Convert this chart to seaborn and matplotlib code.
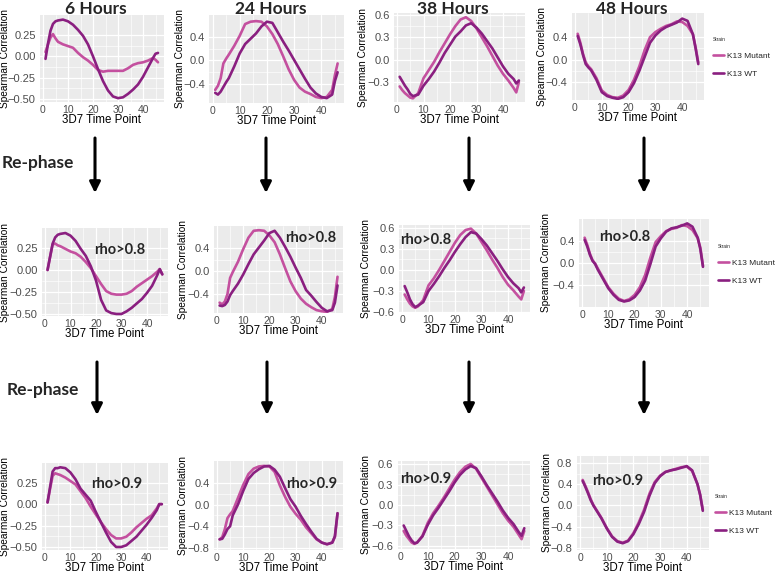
import numpy as np
import pandas as pd
import matplotlib
matplotlib.use("Agg")
import matplotlib.pyplot as plt
import seaborn as sns
from matplotlib.patches import FancyArrowPatch

# 3D7 time points
time_points = [1, 2, 3, 4, 5, 6, 8, 10, 12, 14, 16, 18, 20, 22, 24, 26, 28, 30, 32, 34, 36, 38, 40, 42, 44, 45, 46]

# row 1: original
wt_6h = [-0.03, 0.15, 0.30, 0.38, 0.41, 0.42, 0.43, 0.41, 0.37, 0.31, 0.24, 0.14, 0.00, -0.15, -0.29, -0.40, -0.47, -0.49, -0.48, -0.44, -0.39, -0.33, -0.24, -0.13, -0.02, 0.03, 0.04]
mut_6h = [0.05, 0.14, 0.22, 0.26, 0.21, 0.17, 0.14, 0.12, 0.10, 0.04, -0.01, -0.05, -0.10, -0.16, -0.18, -0.17, -0.17, -0.17, -0.17, -0.14, -0.10, -0.08, -0.07, -0.05, -0.02, -0.04, -0.07]
wt_24h = [-0.55, -0.58, -0.53, -0.45, -0.37, -0.30, -0.10, 0.12, 0.28, 0.37, 0.46, 0.58, 0.66, 0.64, 0.48, 0.32, 0.17, 0.01, -0.15, -0.31, -0.46, -0.56, -0.62, -0.64, -0.58, -0.35, -0.20]
mut_24h = [-0.50, -0.43, -0.30, -0.05, 0.03, 0.10, 0.25, 0.42, 0.62, 0.66, 0.67, 0.66, 0.58, 0.45, 0.28, 0.07, -0.15, -0.33, -0.46, -0.53, -0.57, -0.62, -0.64, -0.62, -0.50, -0.25, -0.05]
wt_38h = [-0.23, -0.29, -0.35, -0.40, -0.46, -0.49, -0.47, -0.35, -0.26, -0.16, -0.04, 0.09, 0.20, 0.31, 0.38, 0.46, 0.49, 0.43, 0.35, 0.25, 0.15, 0.03, -0.09, -0.19, -0.26, -0.32, -0.28]
mut_38h = [-0.36, -0.41, -0.45, -0.48, -0.51, -0.52, -0.45, -0.25, -0.14, -0.03, 0.10, 0.22, 0.34, 0.45, 0.54, 0.57, 0.52, 0.42, 0.30, 0.18, 0.05, -0.08, -0.19, -0.28, -0.38, -0.44, -0.30]
wt_48h = [0.42, 0.27, 0.08, -0.08, -0.14, -0.19, -0.36, -0.58, -0.65, -0.68, -0.70, -0.67, -0.58, -0.42, -0.20, 0.05, 0.30, 0.43, 0.52, 0.58, 0.62, 0.66, 0.73, 0.69, 0.45, 0.20, -0.08]
mut_48h = [0.46, 0.30, 0.10, -0.05, -0.12, -0.17, -0.33, -0.55, -0.63, -0.67, -0.68, -0.64, -0.54, -0.36, -0.12, 0.17, 0.40, 0.49, 0.55, 0.60, 0.63, 0.68, 0.67, 0.60, 0.45, 0.22, -0.05]

# row 2: re-phased, rho>0.8
wt_6h_r8 = [0.00, 0.15, 0.30, 0.37, 0.40, 0.41, 0.42, 0.39, 0.33, 0.24, 0.16, 0.04, -0.12, -0.34, -0.46, -0.49, -0.50, -0.50, -0.47, -0.43, -0.38, -0.33, -0.26, -0.18, -0.06, 0.01, -0.05]
mut_6h_r8 = [0.00, 0.15, 0.29, 0.30, 0.28, 0.27, 0.24, 0.21, 0.19, 0.15, 0.09, 0.02, -0.07, -0.16, -0.24, -0.27, -0.28, -0.28, -0.27, -0.24, -0.19, -0.15, -0.11, -0.07, -0.02, 0.01, -0.05]
wt_24h_r8 = [-0.60, -0.61, -0.59, -0.53, -0.42, -0.35, -0.22, -0.06, 0.12, 0.29, 0.41, 0.53, 0.66, 0.70, 0.58, 0.42, 0.25, 0.06, -0.12, -0.33, -0.43, -0.54, -0.64, -0.70, -0.68, -0.55, -0.25]
mut_24h_r8 = [-0.55, -0.58, -0.53, -0.40, -0.12, -0.02, 0.16, 0.38, 0.58, 0.70, 0.71, 0.70, 0.62, 0.50, 0.29, 0.05, -0.18, -0.35, -0.48, -0.57, -0.63, -0.68, -0.70, -0.71, -0.66, -0.45, -0.10]
wt_38h_r8 = [-0.23, -0.32, -0.42, -0.49, -0.53, -0.51, -0.46, -0.30, -0.20, -0.09, 0.03, 0.14, 0.26, 0.37, 0.47, 0.54, 0.52, 0.44, 0.35, 0.24, 0.13, 0.01, -0.10, -0.19, -0.26, -0.32, -0.25]
mut_38h_r8 = [-0.35, -0.42, -0.48, -0.52, -0.54, -0.52, -0.43, -0.22, -0.12, 0.00, 0.13, 0.26, 0.39, 0.50, 0.57, 0.59, 0.52, 0.40, 0.28, 0.15, 0.03, -0.10, -0.21, -0.29, -0.38, -0.42, -0.30]
wt_48h_r8 = [0.42, 0.30, 0.15, 0.04, -0.02, -0.12, -0.29, -0.46, -0.58, -0.67, -0.70, -0.68, -0.62, -0.50, -0.32, -0.02, 0.30, 0.45, 0.57, 0.63, 0.65, 0.68, 0.72, 0.66, 0.46, 0.25, -0.07]
mut_48h_r8 = [0.46, 0.33, 0.17, 0.05, -0.01, -0.10, -0.27, -0.44, -0.56, -0.65, -0.69, -0.66, -0.58, -0.44, -0.22, 0.10, 0.38, 0.49, 0.58, 0.62, 0.64, 0.69, 0.67, 0.60, 0.45, 0.28, -0.05]

# row 3: re-phased, rho>0.9
wt_6h_r9 = [0.02, 0.20, 0.38, 0.42, 0.42, 0.43, 0.42, 0.37, 0.29, 0.18, 0.11, 0.04, -0.09, -0.21, -0.33, -0.44, -0.50, -0.50, -0.48, -0.43, -0.38, -0.31, -0.24, -0.16, -0.07, 0.00, 0.00]
mut_6h_r9 = [0.02, 0.18, 0.33, 0.36, 0.35, 0.34, 0.31, 0.27, 0.23, 0.15, 0.07, -0.03, -0.12, -0.21, -0.29, -0.36, -0.40, -0.40, -0.38, -0.33, -0.27, -0.22, -0.17, -0.13, -0.05, 0.00, 0.00]
wt_24h_r9 = [-0.64, -0.63, -0.55, -0.45, -0.40, -0.20, 0.00, 0.25, 0.47, 0.58, 0.65, 0.70, 0.71, 0.64, 0.51, 0.30, 0.10, -0.04, -0.21, -0.36, -0.50, -0.63, -0.70, -0.73, -0.70, -0.58, -0.16]
mut_24h_r9 = [-0.64, -0.60, -0.45, -0.25, -0.18, -0.12, 0.12, 0.36, 0.56, 0.66, 0.70, 0.71, 0.70, 0.60, 0.35, 0.14, -0.04, -0.17, -0.28, -0.42, -0.53, -0.64, -0.70, -0.73, -0.70, -0.60, -0.16]
wt_38h_r9 = [-0.30, -0.38, -0.46, -0.52, -0.56, -0.55, -0.46, -0.29, -0.15, -0.04, 0.08, 0.20, 0.33, 0.44, 0.52, 0.57, 0.54, 0.42, 0.29, 0.17, 0.05, -0.08, -0.19, -0.28, -0.40, -0.45, -0.34]
mut_38h_r9 = [-0.38, -0.45, -0.50, -0.55, -0.57, -0.55, -0.45, -0.26, -0.12, -0.01, 0.11, 0.24, 0.37, 0.48, 0.56, 0.60, 0.53, 0.40, 0.27, 0.14, 0.01, -0.12, -0.23, -0.32, -0.44, -0.50, -0.38]
wt_48h_r9 = [0.46, 0.35, 0.23, 0.10, 0.00, -0.08, -0.24, -0.43, -0.59, -0.68, -0.71, -0.67, -0.54, -0.35, -0.12, 0.18, 0.42, 0.55, 0.63, 0.66, 0.68, 0.71, 0.74, 0.66, 0.40, 0.20, -0.10]
mut_48h_r9 = [0.48, 0.37, 0.25, 0.12, 0.01, -0.07, -0.23, -0.42, -0.58, -0.67, -0.70, -0.66, -0.52, -0.32, -0.08, 0.22, 0.44, 0.56, 0.63, 0.66, 0.69, 0.72, 0.73, 0.65, 0.40, 0.20, -0.08]

column_titles = ["6 Hours", "24 Hours", "38 Hours", "48 Hours"]
rho_labels = ["", "rho>0.8", "rho>0.9"]
strains = ["K13 Mutant", "K13 WT"]
palette = {"K13 Mutant": "#C4509F", "K13 WT": "#8A1F80"}

series = [
    [(wt_6h, mut_6h), (wt_24h, mut_24h), (wt_38h, mut_38h), (wt_48h, mut_48h)],
    [(wt_6h_r8, mut_6h_r8), (wt_24h_r8, mut_24h_r8), (wt_38h_r8, mut_38h_r8), (wt_48h_r8, mut_48h_r8)],
    [(wt_6h_r9, mut_6h_r9), (wt_24h_r9, mut_24h_r9), (wt_38h_r9, mut_38h_r9), (wt_48h_r9, mut_48h_r9)],
]

# panel geometry in pixels (x of tick 0, px per 10 units, top, bottom), y range, ticks
yt_6 = [-0.5, -0.25, 0, 0.25]
yt_4 = [-0.4, 0, 0.4]
yt_36 = [-0.6, -0.3, 0, 0.3, 0.6]
layout = [
    [dict(x0=43, sx=25.0, top=15, bot=102, ylim=(-0.535, 0.484), yt=yt_6, dec=2, ylx=5),
     dict(x0=212.5, sx=27.2, top=15, bot=103, ylim=(-0.723, 0.774), yt=yt_4, dec=1, ylx=180),
     dict(x0=397, sx=26.5, top=13, bot=102, ylim=(-0.569, 0.627), yt=[-0.3, 0, 0.3, 0.6], dec=1, ylx=363),
     dict(x0=575, sx=26.8, top=13, bot=100, ylim=(-0.72, 0.83), yt=yt_4, dec=1, ylx=542)],
    [dict(x0=45, sx=25.5, top=228, bot=316, ylim=(-0.523, 0.477), yt=yt_6, dec=2, ylx=5),
     dict(x0=217, sx=26.2, top=226, bot=313, ylim=(-0.73, 0.783), yt=yt_4, dec=1, ylx=183),
     dict(x0=402, sx=26.5, top=225, bot=312, ylim=(-0.586, 0.642), yt=yt_36, dec=1, ylx=366),
     dict(x0=582, sx=26.3, top=219, bot=307, ylim=(-0.8, 0.8), yt=yt_4, dec=1, ylx=546)],
    [dict(x0=45, sx=25.4, top=463, bot=550, ylim=(-0.535, 0.48), yt=yt_6, dec=2, ylx=5),
     dict(x0=217, sx=26.2, top=461, bot=550, ylim=(-0.836, 0.8), yt=[-0.8, -0.4, 0, 0.4], dec=1, ylx=183),
     dict(x0=401, sx=26.8, top=461, bot=549, ylim=(-0.644, 0.644), yt=yt_36, dec=1, ylx=366),
     dict(x0=580, sx=26.7, top=456, bot=550, ylim=(-0.837, 0.93), yt=[-0.8, -0.4, 0, 0.4, 0.8], dec=1, ylx=547)],
]
xlab_base = [21, 21, 21]
rho_pos = [None,
           [(120, 250), (311, 238), (426, 240), (625, 237)],
           [(117, 484), (312, 484), (426, 479), (618, 481)]]
title_x = [96, 271, 453, 632]
legend_pos = [(709, 33), (714, 240), (711, 490)]
arrow_x = [[95, 266, 469, 644], [97, 267, 469, 644]]
arrow_y = [(138, 193), (362, 415)]
rephase_pos = [(2, 163), (7, 390)]

W, H = 778, 575
sns.set_style("white")
plt.rcParams["font.family"] = ["Liberation Sans", "DejaVu Sans"]
plt.rcParams["axes.unicode_minus"] = True

fig = plt.figure(figsize=(W / 100, H / 100), dpi=100)


def fx(x):
    return x / W


def fy(y):
    return 1 - y / H


for r in range(3):
    for c in range(4):
        p = layout[r][c]
        left = p["x0"] - 1.25 * p["sx"] / 10
        width = 49.5 * p["sx"] / 10
        height = p["bot"] - p["top"]
        ax = fig.add_axes([fx(left), fy(p["bot"]), width / W, height / H])
        wt, mut = series[r][c]
        df = pd.DataFrame({
            "3D7 Time Point": time_points + time_points,
            "Spearman Correlation": mut + wt,
            "Strain": ["K13 Mutant"] * len(mut) + ["K13 WT"] * len(wt),
        })
        sns.lineplot(data=df, x="3D7 Time Point", y="Spearman Correlation", hue="Strain",
                     hue_order=strains, palette=palette, linewidth=1.9, ax=ax,
                     legend=(c == 3), sort=True)
        ax.set_facecolor("#EBEBEB")
        ax.set_xlim(-1.25, 48.25)
        ax.set_ylim(*p["ylim"])
        ax.set_xticks([0, 10, 20, 30, 40])
        ax.set_xticks([5, 15, 25, 35, 45], minor=True)
        yt = p["yt"]
        ax.set_yticks(yt)
        ax.set_yticks([(a + b) / 2 for a, b in zip(yt[:-1], yt[1:])], minor=True)
        ax.set_yticklabels([f"{v:.{p['dec']}f}".replace("-", "\u2212") for v in yt])
        ax.grid(which="major", color="white", linewidth=0.9)
        ax.grid(which="minor", color="white", linewidth=0.45)
        ax.set_axisbelow(True)
        for s in ax.spines.values():
            s.set_visible(False)
        ax.tick_params(which="major", length=2, width=0.6, color="#333333",
                       labelcolor="#4D4D4D", pad=1)
        ax.tick_params(axis="y", labelsize=8)
        ax.tick_params(axis="x", labelsize=7.5, pad=0.5)
        ax.tick_params(which="minor", length=0)
        ax.set_xlabel("3D7 Time Point", fontsize=8.3, color="black")
        ax.xaxis.set_label_coords(0.5, -xlab_base[r] / height)
        ax.xaxis.label.set_va("baseline")
        ax.set_ylabel("Spearman Correlation", fontsize=7.3, color="black")
        ax.yaxis.set_label_coords((p["ylx"] + 5 - left) / width, 0.5)
        if c == 3:
            handles, labels = ax.get_legend_handles_labels()
            ax.get_legend().remove()
            lx, ly = legend_pos[r]
            ax.legend(handles, labels, title="Strain", loc="upper left",
                      bbox_to_anchor=(fx(lx), fy(ly)), bbox_transform=fig.transFigure,
                      frameon=False, fontsize=6, title_fontsize=3.5,
                      handlelength=1.3, handletextpad=0.4, labelspacing=1.2,
                      borderpad=0, alignment="left")
        if r > 0:
            tx, ty = rho_pos[r][c]
            fig.text(fx(tx), fy(ty), rho_labels[r], ha="center", va="center",
                     fontsize=10.5, fontweight="bold", family="Lato")

for c, t in enumerate(column_titles):
    fig.text(fx(title_x[c]), fy(9), t, ha="center", va="center",
             fontsize=12.5, fontweight="bold", family="Lato")

for (rx, ry) in rephase_pos:
    fig.text(fx(rx), fy(ry), "Re-phase", ha="left", va="center",
             fontsize=12.5, fontweight="bold", family="Lato")

for k in range(2):
    y0, y1 = arrow_y[k]
    for x in arrow_x[k]:
        fig.add_artist(FancyArrowPatch((fx(x), fy(y0)), (fx(x), fy(y1)),
                                       transform=fig.transFigure, arrowstyle="-|>",
                                       mutation_scale=16, linewidth=2.2, color="black",
                                       shrinkA=0, shrinkB=0))

fig.savefig("out.png", dpi=100, facecolor="white")
